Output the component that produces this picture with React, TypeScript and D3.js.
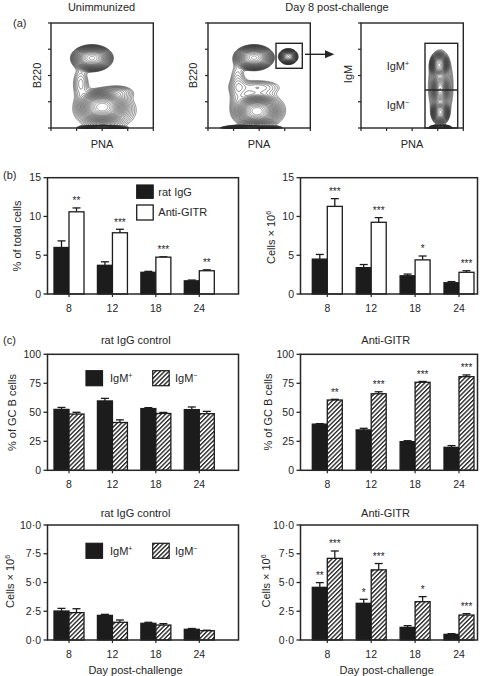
import React, { useMemo } from "react";
import * as d3 from "d3";

const FONT = "'Liberation Sans', Arial, Helvetica, sans-serif";
const INK = "#262626";
const BAR_DARK = "#1c1c1c";

// ---------- data ----------
const days = ["8", "12", "18", "24"];

// (b) % of total cells
const pctRat = [6.0, 3.7, 2.8, 1.7];
const pctRatErr = [0.85, 0.45, 0.12, 0.1];
const pctAnti = [10.6, 7.9, 4.75, 3.0];
const pctAntiErr = [0.5, 0.45, 0.05, 0.12];
const pctStars = ["**", "***", "***", "**"];

// (b) cells x 10^6
const cellsRat = [4.5, 3.4, 2.35, 1.45];
const cellsRatErr = [0.6, 0.4, 0.22, 0.15];
const cellsAnti = [11.3, 9.25, 4.4, 2.8];
const cellsAntiErr = [1.0, 0.6, 0.5, 0.2];
const cellsStars = ["***", "***", "*", "***"];

// (c) % of GC B cells, rat IgG control
const gcCtrlPos = [52.5, 59.8, 53.2, 52.3];
const gcCtrlPosErr = [1.7, 2.2, 0.8, 2.3];
const gcCtrlNeg = [48.5, 41.2, 49.0, 48.8];
const gcCtrlNegErr = [1.5, 2.3, 0.9, 2.0];

// (c) % of GC B cells, anti-GITR
const gcAntiPos = [39.8, 34.8, 24.7, 19.8];
const gcAntiPosErr = [0.4, 1.4, 0.8, 1.5];
const gcAntiNeg = [60.6, 66.0, 75.9, 80.7];
const gcAntiNegErr = [0.6, 1.7, 0.7, 1.5];
const gcAntiNegStars = ["**", "***", "***", "***"];

// (c) cells x 10^6, rat IgG control
const nCtrlPos = [2.52, 2.14, 1.45, 0.93];
const nCtrlPosErr = [0.23, 0.09, 0.09, 0.07];
const nCtrlNeg = [2.38, 1.54, 1.3, 0.81];
const nCtrlNegErr = [0.34, 0.2, 0.12, 0.04];

// (c) cells x 10^6, anti-GITR
const nAntiPos = [4.58, 3.19, 1.1, 0.49];
const nAntiPosErr = [0.41, 0.35, 0.15, 0.06];
const nAntiPosStars = ["**", "*", "", ""];
const nAntiNeg = [7.1, 6.1, 3.33, 2.17];
const nAntiNegErr = [0.64, 0.55, 0.44, 0.12];
const nAntiNegStars = ["***", "***", "*", "***"];

const ticks15 = [0, 5, 10, 15];
const ticks100 = [0, 25, 50, 75, 100];
const ticks10 = [0, 2.5, 5, 7.5, 10];
const flowTicks = [0, 0.25, 0.5, 0.75, 1];

// flow populations: [centerX, centerY, radiusX, radiusY, weight] in axis fractions
const unimmBlobs = [
  [0.4, 0.665, 0.21, 0.13, 1.0],
  [0.5, 0.2, 0.24, 0.16, 1.1],
  [0.53, 0.17, 0.5, 0.32, 0.06],
  [0.5, 0.0, 0.25, 0.03, 0.7],
  [0.29, 0.43, 0.15, 0.28, 0.03],
  [0.66, 0.34, 0.26, 0.11, 0.03],
];
const day8Blobs = [
  [0.45, 0.67, 0.2, 0.125, 1.0],
  [0.785, 0.68, 0.1, 0.08, 0.7],
  [0.48, 0.16, 0.22, 0.15, 1.1],
  [0.5, 0.17, 0.42, 0.28, 0.06],
  [0.42, 0.0, 0.32, 0.03, 0.6],
  [0.29, 0.4, 0.15, 0.44, 0.03],
  [0.48, 0.39, 0.44, 0.13, 0.03],
];
const igmBlobs = [
  [0.765, 0.6, 0.09, 0.12, 1.0],
  [0.775, 0.37, 0.09, 0.17, 0.5],
  [0.775, 0.15, 0.09, 0.12, 0.7],
  [0.78, 0.4, 0.2, 0.55, 0.06],
  [0.775, 0.0, 0.12, 0.03, 0.8],
];

// ---------- components ----------
const LEVELS = 26;
const TOP = 0.93;
const FLOOR = 0.012;

function FlowPlot({ x0, y0, w, h, blobs }: any) {
  const gw = Math.round(w * 2);
  const gh = Math.round(h * 2);
  const paths = useMemo(() => {
    const L = Math.log(1 / FLOOR);
    const values = new Array(gw * gh).fill(0);
    for (let j = 0; j < gh; j++) {
      const fy = 1 - (j + 0.5) / gh;
      for (let i = 0; i < gw; i++) {
        const fx = (i + 0.5) / gw;
        let s = 0;
        for (const [cx, cy, rx, ry, wt] of blobs) {
          const dx = (fx - cx) / rx;
          const dy = (fy - cy) / ry;
          s += wt * Math.exp(-L * (dx * dx + dy * dy));
        }
        values[j * gw + i] = s;
      }
    }
    const q = Math.pow(FLOOR / TOP, 1 / (LEVELS - 1));
    const thr = d3.range(LEVELS).map((k) => TOP * Math.pow(q, k));
    const cs = d3.contours().size([gw, gh]).thresholds(thr)(values);
    const gp = d3.geoPath();
    return cs.map((c, i) => ({ d: gp(c as any), i }));
  }, []);
  const xs = d3.scaleLinear([0, 1], [x0, x0 + w]);
  const ys = d3.scaleLinear([0, 1], [y0 + h, y0]);
  return (
    <g>
      <g transform={`translate(${x0},${y0}) scale(${w / gw},${h / gh})`}>
        {paths.map(({ d, i }) => (
          <path key={i} d={d || ""} fill="none" stroke={i > LEVELS - 6 ? "#555" : "#2a2a2a"} strokeWidth={0.55} vectorEffect="non-scaling-stroke" />
        ))}
      </g>
      <rect x={x0} y={y0} width={w} height={h} fill="none" stroke={INK} strokeWidth={1.4} />
      {flowTicks.map((t, i) => (
        <line key={"y" + i} x1={x0 - 3} x2={x0} y1={ys(t)} y2={ys(t)} stroke={INK} strokeWidth={1.2} />
      ))}
      {flowTicks.map((t, i) => (
        <line key={"x" + i} x1={xs(t)} x2={xs(t)} y1={y0 + h} y2={y0 + h + 3} stroke={INK} strokeWidth={1.2} />
      ))}
    </g>
  );
}

function BarPanel({ left, right, top, bottom, c0, c1, max, ticks, fmt, series }: any) {
  const x = d3.scalePoint(days, [c0, c1]);
  const inner = d3.scaleBand(["a", "b"], [-15, 15]);
  const y = d3.scaleLinear([0, max], [bottom, top]);
  const keys = ["a", "b"];
  return (
    <g>
      {series.map((s: any, si: number) =>
        days.map((d, di) => {
          const bx = (x(d) as number) + (inner(keys[si]) as number);
          const bw = inner.bandwidth();
          const v = s.values[di];
          const e = s.errors[di];
          const cx = bx + bw / 2;
          const et = y(v + e);
          return (
            <g key={si + "-" + di}>
              <line x1={cx} x2={cx} y1={y(v)} y2={et} stroke={BAR_DARK} strokeWidth={1.3} />
              <line x1={cx - 4} x2={cx + 4} y1={et} y2={et} stroke={BAR_DARK} strokeWidth={1.3} />
              <rect x={bx} y={y(v)} width={bw} height={bottom - y(v)} fill={s.fill} stroke={BAR_DARK} strokeWidth={1.3} />
              {s.stars && s.stars[di] ? (
                <text x={cx} y={et - 3.7} textAnchor="middle" fontSize={10} fill={INK}>
                  {s.stars[di]}
                </text>
              ) : null}
            </g>
          );
        })
      )}
      <rect x={left} y={top} width={right - left} height={bottom - top} fill="none" stroke={INK} strokeWidth={1.5} />
      {ticks.map((t: number) => (
        <g key={t}>
          <line x1={left - 4} x2={left} y1={y(t)} y2={y(t)} stroke={INK} strokeWidth={1.3} />
          <text x={left - 6.5} y={y(t)} dy="0.35em" textAnchor="end" fontSize={10.5} fill={INK}>
            {fmt(t)}
          </text>
        </g>
      ))}
      {days.map((d) => (
        <g key={d}>
          <line x1={x(d)} x2={x(d)} y1={bottom} y2={bottom + 3} stroke={INK} strokeWidth={1.2} />
          <text x={x(d)} y={bottom + 14} dy="0.35em" textAnchor="middle" fontSize={10.5} fill={INK}>
            {d}
          </text>
        </g>
      ))}
    </g>
  );
}

const Sup = ({ children }: any) => (
  <tspan fontSize={7} dy={-4}>
    {children}
  </tspan>
);

function YLabel({ x, y, children }: any) {
  return (
    <text transform={`translate(${x},${y}) rotate(-90)`} textAnchor="middle" fontSize={11} fill={INK}>
      {children}
    </text>
  );
}

const CellsLabel = () => (
  <>
    {"Cells × 10"}
    <Sup>6</Sup>
  </>
);

function IgmLegend({ y }: any) {
  return (
    <g>
      <rect x={86} y={y} width={16.5} height={15} fill={BAR_DARK} stroke={BAR_DARK} strokeWidth={1.2} />
      <text x={110} y={y + 11.5} fontSize={11} fill={INK}>
        IgM<Sup>+</Sup>
      </text>
      <rect x={152.7} y={y} width={16.5} height={15} fill="url(#hatch)" stroke={BAR_DARK} strokeWidth={1.2} />
      <text x={175} y={y + 11.5} fontSize={11} fill={INK}>
        IgM<Sup>−</Sup>
      </text>
    </g>
  );
}

const fmtInt = (t: number) => d3.format("d")(t);
const fmtDot = (t: number) => d3.format(".1f")(t).replace(".", "·");

export default function App() {
  const L = { left: 47.5, right: 238.5, c0: 69, c1: 199.3 };
  const R = { left: 300.5, right: 477.5, c0: 327.3, c1: 459 };
  return (
    <svg width={480} height={676} style={{ position: "absolute", left: 0, top: 0, background: "#fff" }} fontFamily={FONT}>
      <defs>
        <pattern id="hatch" patternUnits="userSpaceOnUse" width={3.1} height={3.1} patternTransform="rotate(45)">
          <rect width={3.1} height={3.1} fill="#fff" />
          <line x1={0.7} y1={0} x2={0.7} y2={3.1} stroke="#1a1a1a" strokeWidth={1.3} />
        </pattern>
      </defs>
      <rect width={480} height={676} fill="#fff" />

      {/* (a) */}
      <text x={13} y={27} fontSize={11} fill={INK}>(a)</text>
      <text x={101.5} y={11} textAnchor="middle" fontSize={11} fill={INK}>Unimmunized</text>
      <text x={337} y={11} textAnchor="middle" fontSize={11} fill={INK}>Day 8 post-challenge</text>

      <FlowPlot x0={51} y0={23} w={102.3} h={105} blobs={unimmBlobs} />
      <FlowPlot x0={208} y0={23} w={102.3} h={105} blobs={day8Blobs} />
      <FlowPlot x0={361} y0={23} w={102.3} h={105} blobs={igmBlobs} />

      <YLabel x={40.5} y={75.5}>B220</YLabel>
      <YLabel x={197} y={75.5}>B220</YLabel>
      <YLabel x={352} y={74}>IgM</YLabel>
      {[102, 259, 412].map((cx, i) => (
        <text key={i} x={cx} y={147.5} textAnchor="middle" fontSize={11} fill={INK}>PNA</text>
      ))}

      {/* gates */}
      <rect x={276} y={43.3} width={26.3} height={25} fill="none" stroke={INK} strokeWidth={1.4} />
      <line x1={305} x2={326} y1={54.3} y2={54.3} stroke={INK} strokeWidth={1.4} />
      <path d="M334.3,54.3 L325,50.3 L325,58.3 Z" fill={INK} />
      <rect x={425} y={43.3} width={32.7} height={84.7} fill="none" stroke={INK} strokeWidth={1.4} />
      <line x1={425} x2={457.7} y1={90} y2={90} stroke={INK} strokeWidth={1.4} />
      <text x={386.7} y={70} fontSize={11} fill={INK}>IgM<Sup>+</Sup></text>
      <text x={386.7} y={109.3} fontSize={11} fill={INK}>IgM<Sup>−</Sup></text>

      {/* (b) */}
      <text x={3} y={178.5} fontSize={11} fill={INK}>(b)</text>
      <BarPanel
        {...L}
        top={177.7}
        bottom={294}
        max={15}
        ticks={ticks15}
        fmt={fmtInt}
        series={[
          { values: pctRat, errors: pctRatErr, fill: BAR_DARK },
          { values: pctAnti, errors: pctAntiErr, fill: "#fff", stars: pctStars },
        ]}
      />
      <YLabel x={20.7} y={236}>% of total cells</YLabel>
      <rect x={136.7} y={185} width={16.5} height={13.3} fill={BAR_DARK} stroke={BAR_DARK} strokeWidth={1.2} />
      <text x={158.3} y={195.5} fontSize={11} fill={INK}>rat IgG</text>
      <rect x={136.7} y={205} width={16.5} height={15} fill="#fff" stroke={BAR_DARK} strokeWidth={1.3} />
      <text x={158.3} y={216.3} fontSize={11} fill={INK}>Anti-GITR</text>

      <BarPanel
        {...R}
        top={177.7}
        bottom={294}
        max={15}
        ticks={ticks15}
        fmt={fmtInt}
        series={[
          { values: cellsRat, errors: cellsRatErr, fill: BAR_DARK },
          { values: cellsAnti, errors: cellsAntiErr, fill: "#fff", stars: cellsStars },
        ]}
      />
      <YLabel x={275} y={237.5}><CellsLabel /></YLabel>

      {/* (c) top */}
      <text x={3} y={343.5} fontSize={11} fill={INK}>(c)</text>
      <text x={135.8} y={344} textAnchor="middle" fontSize={11} fill={INK}>rat IgG control</text>
      <text x={385.8} y={344} textAnchor="middle" fontSize={11} fill={INK}>Anti-GITR</text>
      <BarPanel
        {...L}
        top={354.3}
        bottom={470.3}
        max={100}
        ticks={ticks100}
        fmt={fmtInt}
        series={[
          { values: gcCtrlPos, errors: gcCtrlPosErr, fill: BAR_DARK },
          { values: gcCtrlNeg, errors: gcCtrlNegErr, fill: "url(#hatch)" },
        ]}
      />
      <IgmLegend y={370.7} />
      <YLabel x={16} y={412.5}>% of GC B cells</YLabel>
      <BarPanel
        {...R}
        top={354.3}
        bottom={470.3}
        max={100}
        ticks={ticks100}
        fmt={fmtInt}
        series={[
          { values: gcAntiPos, errors: gcAntiPosErr, fill: BAR_DARK },
          { values: gcAntiNeg, errors: gcAntiNegErr, fill: "url(#hatch)", stars: gcAntiNegStars },
        ]}
      />
      <YLabel x={272.3} y={412}>% of GC B cells</YLabel>

      {/* (c) bottom */}
      <text x={135.5} y={517} textAnchor="middle" fontSize={11} fill={INK}>rat IgG control</text>
      <text x={385.5} y={517} textAnchor="middle" fontSize={11} fill={INK}>Anti-GITR</text>
      <BarPanel
        {...L}
        top={525}
        bottom={640}
        max={10}
        ticks={ticks10}
        fmt={fmtDot}
        series={[
          { values: nCtrlPos, errors: nCtrlPosErr, fill: BAR_DARK },
          { values: nCtrlNeg, errors: nCtrlNegErr, fill: "url(#hatch)" },
        ]}
      />
      <IgmLegend y={543.3} />
      <YLabel x={14} y={581.5}><CellsLabel /></YLabel>
      <BarPanel
        {...R}
        top={525}
        bottom={640}
        max={10}
        ticks={ticks10}
        fmt={fmtDot}
        series={[
          { values: nAntiPos, errors: nAntiPosErr, fill: BAR_DARK, stars: nAntiPosStars },
          { values: nAntiNeg, errors: nAntiNegErr, fill: "url(#hatch)", stars: nAntiNegStars },
        ]}
      />
      <YLabel x={270} y={581}><CellsLabel /></YLabel>
      <text x={135.5} y={674} textAnchor="middle" fontSize={11} fill={INK}>Day post-challenge</text>
      <text x={386.7} y={674} textAnchor="middle" fontSize={11} fill={INK}>Day post-challenge</text>
    </svg>
  );
}
